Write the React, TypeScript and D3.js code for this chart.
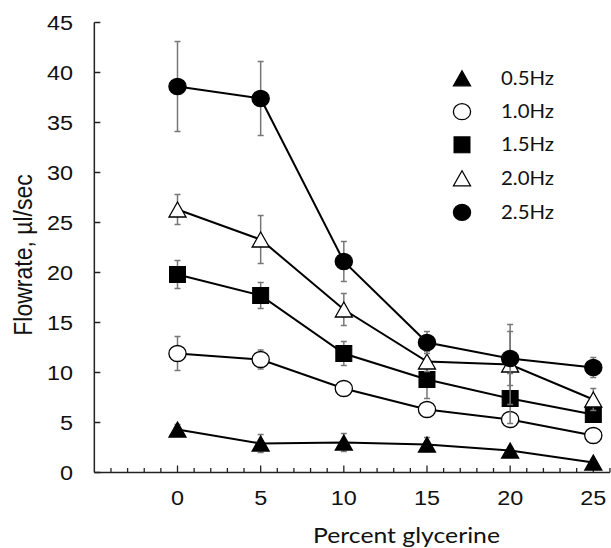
import React, { Component } from "react";
import * as d3 from "d3";

// glycerine percentages on the x axis
const glycerine = [0, 5, 10, 15, 20, 25];

// mean flowrate (µl/sec) for each frequency
const hz05 = [4.3, 2.9, 3.0, 2.8, 2.2, 1.0];
const hz10 = [11.9, 11.3, 8.4, 6.3, 5.3, 3.7];
const hz15 = [19.8, 17.7, 11.9, 9.3, 7.4, 5.8];
const hz20 = [26.3, 23.3, 16.3, 11.1, 10.8, 7.3];
const hz25 = [38.6, 37.4, 21.1, 13.0, 11.4, 10.5];

// error bar half-lengths
const err05 = [0.5, 0.9, 0.9, 0.7, 0.3, 0.2];
const err10 = [1.7, 0.95, 0.4, 0.5, 0.4, 0.3];
const err15 = [1.4, 1.3, 1.2, 1.9, 2.5, 0.5];
const err20 = [1.5, 2.4, 1.6, 1.0, 4.0, 1.1];
const err25 = [4.5, 3.7, 2.0, 1.1, 2.7, 1.0];

const seriesLabels = ["0.5Hz", "1.0Hz", "1.5Hz", "2.0Hz", "2.5Hz"];
const markerTypes = ["triFilled", "circleOpen", "square", "triOpen", "circleFilled"];
const yTicks = [0, 5, 10, 15, 20, 25, 30, 35, 40, 45];
const xTicks = [0, 5, 10, 15, 20, 25];

class App extends Component {
  componentDidMount() {
    const width = 611;
    const height = 548;

    const svg = d3.select(".flow_svg")
      .attr("width", width)
      .attr("height", height);

    svg.selectAll("*").remove();

    const xScale = d3.scaleLinear().domain([0, 25]).range([177.5, 593.3]);
    const yScale = d3.scaleLinear().domain([0, 45]).range([472.5, 22.5]);

    const axisX = xScale(-5);
    const axisY = yScale(0);

    // y axis line + inward ticks
    svg.append("line")
      .attr("x1", axisX).attr("x2", axisX)
      .attr("y1", yScale(45)).attr("y2", axisY)
      .attr("stroke", "#222").attr("stroke-width", 1.5);

    svg.selectAll(".ytick")
      .data(yTicks)
      .enter()
      .append("line")
      .attr("x1", axisX).attr("x2", axisX + 6)
      .attr("y1", d => yScale(d)).attr("y2", d => yScale(d))
      .attr("stroke", "#222").attr("stroke-width", 1.5);

    svg.selectAll(".ylab")
      .data(yTicks)
      .enter()
      .append("text")
      .attr("transform", d => `translate(73, ${yScale(d)}) scale(1.2, 1)`)
      .attr("dy", "0.36em")
      .attr("text-anchor", "end")
      .style("font-family", "'Liberation Sans', Arial, sans-serif")
      .style("font-size", "19.5px")
      .attr("fill", "#111")
      .text(d => d);

    // x axis line + minor/major ticks pointing up
    svg.append("line")
      .attr("x1", axisX).attr("x2", xScale(26))
      .attr("y1", axisY).attr("y2", axisY)
      .attr("stroke", "#222").attr("stroke-width", 1.5);

    svg.selectAll(".xminor")
      .data(d3.range(-4, 27))
      .enter()
      .append("line")
      .attr("x1", d => xScale(d)).attr("x2", d => xScale(d))
      .attr("y1", axisY)
      .attr("y2", d => axisY - (d % 5 === 0 ? 7 : 4.5))
      .attr("stroke", "#222").attr("stroke-width", 1.3);

    svg.selectAll(".xlab")
      .data(xTicks)
      .enter()
      .append("text")
      .attr("transform", d => `translate(${xScale(d)}, 504.5) scale(1.2, 1)`)
      .attr("text-anchor", "middle")
      .style("font-family", "'Liberation Sans', Arial, sans-serif")
      .style("font-size", "19.5px")
      .attr("fill", "#111")
      .text(d => d);

    // axis titles
    svg.append("text")
      .attr("transform", "translate(32, 255) scale(1.1, 1) rotate(-90)")
      .attr("text-anchor", "middle")
      .style("font-family", "'Liberation Sans', Arial, sans-serif")
      .style("font-size", "23px")
      .attr("fill", "#111")
      .text("Flowrate, µl/sec");

    svg.append("text")
      .attr("x", 313)
      .attr("y", 543)
      .attr("textLength", 187)
      .attr("lengthAdjust", "spacingAndGlyphs")
      .style("font-family", "Lato, sans-serif")
      .style("font-size", "22px")
      .attr("fill", "#111")
      .text("Percent glycerine");

    // marker drawing helper
    const drawMarker = (g, type, cx, cy) => {
      if (type === "triFilled" || type === "triOpen") {
        const w = 8.5, h = 7.5;
        g.append("path")
          .attr("d", `M${cx},${cy - h}L${cx + w},${cy + h}L${cx - w},${cy + h}Z`)
          .attr("fill", type === "triFilled" ? "#000" : "#fff")
          .attr("stroke", "#000")
          .attr("stroke-width", 1.3);
      } else if (type === "square") {
        g.append("rect")
          .attr("x", cx - 8).attr("y", cy - 8)
          .attr("width", 16).attr("height", 16)
          .attr("fill", "#000").attr("stroke", "#000").attr("stroke-width", 1);
      } else {
        g.append("ellipse")
          .attr("cx", cx).attr("cy", cy)
          .attr("rx", 8.6).attr("ry", 8)
          .attr("fill", type === "circleFilled" ? "#000" : "#fff")
          .attr("stroke", "#000")
          .attr("stroke-width", 1.3);
      }
    };

    const allSeries = [
      { values: hz05, errs: err05 },
      { values: hz10, errs: err10 },
      { values: hz15, errs: err15 },
      { values: hz20, errs: err20 },
      { values: hz25, errs: err25 },
    ];

    const line = d3.line()
      .x(d => xScale(d[0]))
      .y(d => yScale(d[1]));

    // lines first
    allSeries.forEach(s => {
      const pts = glycerine.map((x, i) => [x, s.values[i]]);
      svg.append("path")
        .attr("d", line(pts))
        .attr("fill", "none")
        .attr("stroke", "#000")
        .attr("stroke-width", 2);
    });

    // error bars and markers, series by series
    allSeries.forEach((s, si) => {
      const g = svg.append("g");
      glycerine.forEach((x, i) => {
        const cx = xScale(x);
        const top = yScale(s.values[i] + s.errs[i]);
        const bot = yScale(s.values[i] - s.errs[i]);
        g.append("line")
          .attr("x1", cx).attr("x2", cx).attr("y1", top).attr("y2", bot)
          .attr("stroke", "#777").attr("stroke-width", 1.5);
        [top, bot].forEach(yy => {
          g.append("line")
            .attr("x1", cx - 3).attr("x2", cx + 3).attr("y1", yy).attr("y2", yy)
            .attr("stroke", "#777").attr("stroke-width", 1.5);
        });
      });
      glycerine.forEach((x, i) => {
        drawMarker(g, markerTypes[si], xScale(x), yScale(s.values[i]));
      });
    });

    // legend
    const legendRows = [78.3, 111.7, 144.8, 178.3, 212.3];
    seriesLabels.forEach((label, i) => {
      const g = svg.append("g");
      drawMarker(g, markerTypes[i], 462, legendRows[i]);
      g.append("text")
        .attr("x", 501)
        .attr("y", legendRows[i] + 6.5)
        .attr("textLength", 53)
        .attr("lengthAdjust", "spacingAndGlyphs")
        .style("font-family", "Lato, sans-serif")
        .style("font-size", "18.5px")
        .attr("fill", "#111")
        .text(label);
    });
  }

  componentDidUpdate() {
    this.componentDidMount();
  }

  render() {
    return (
      <div>
        <svg className="flow_svg" style={{ position: "absolute", left: 0, top: 0 }}></svg>
      </div>
    );
  }
}

export default App;
